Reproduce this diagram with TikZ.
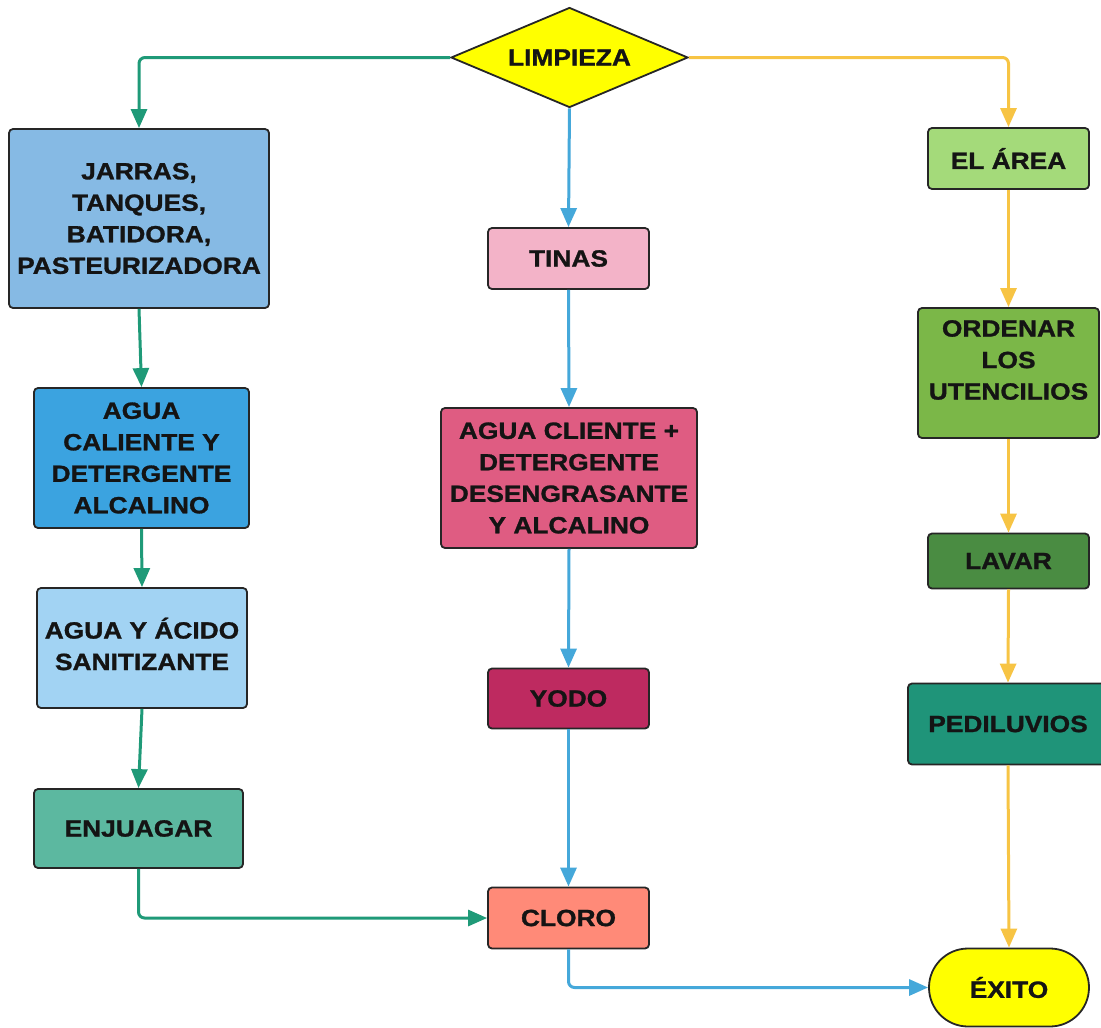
\documentclass[tikz,border=0pt]{standalone}
\usepackage{fontspec}
\setmainfont[FakeStretch=1.12, BoldFeatures={FakeBold=1.2}]{Liberation Sans}
\usetikzlibrary{shapes.geometric,arrows.meta}

\newcommand\boxfont{\fontsize{23.5}{31.5}\selectfont\bfseries}

\definecolor{cYellow}{HTML}{FFFF00}
\definecolor{cJarras}{HTML}{86BAE4}
\definecolor{cCaliente}{HTML}{3BA3E0}
\definecolor{cAcido}{HTML}{A2D3F3}
\definecolor{cEnjuagar}{HTML}{5CB8A0}
\definecolor{cTinas}{HTML}{F3B3C8}
\definecolor{cCliente}{HTML}{DF5C82}
\definecolor{cYodo}{HTML}{BE2A60}
\definecolor{cCloro}{HTML}{FF8A78}
\definecolor{cArea}{HTML}{A4DA7A}
\definecolor{cOrdenar}{HTML}{7BB748}
\definecolor{cLavar}{HTML}{4A8C42}
\definecolor{cPedi}{HTML}{1F9479}
\definecolor{lnGreen}{HTML}{1F9A78}
\definecolor{lnBlue}{HTML}{45A8DA}
\definecolor{lnYellow}{HTML}{F7C444}

\tikzset{
  box/.style={draw=black!85, line width=1.8pt, rounded corners=4pt,
    align=center, inner sep=0pt, font=\boxfont, text=black!92},
  txt/.style={align=center, inner sep=0pt, font=\boxfont, text=black!92},
  link/.style={line width=3pt, rounded corners=6pt,
    -{Triangle[length=19pt,width=16pt]}},
}

\begin{document}
\begin{tikzpicture}[x=1pt,y=-1pt]
\useasboundingbox (0,0) rectangle (1101,1028);

% start
\node[diamond, aspect=2.37, draw=black!85, line width=1.8pt, fill=cYellow,
      inner sep=0pt, minimum width=237pt, minimum height=100pt,
      font=\boxfont, text=black!92] (lim) at (569.5,57.5) {LIMPIEZA};

% left column
\node[box, fill=cJarras, minimum width=260pt, minimum height=179pt]
  (jarras) at (139,218.5) {JARRAS,\\TANQUES,\\BATIDORA,\\PASTEURIZADORA};
\node[box, fill=cCaliente, minimum width=215pt, minimum height=140pt]
  (caliente) at (141.5,458) {AGUA\\CALIENTE Y\\DETERGENTE\\ALCALINO};
\node[box, fill=cAcido, minimum width=210pt, minimum height=120pt]
  (acido) at (142,648) {};
\node[txt] (acido-t) at (142,644) {AGUA Y ÁCIDO\\SANITIZANTE};
\node[box, fill=cEnjuagar, minimum width=209pt, minimum height=79pt]
  (enj) at (138.5,828.5) {ENJUAGAR};

% middle column
\node[box, fill=cTinas, minimum width=161pt, minimum height=61pt]
  (tinas) at (568.5,258.5) {TINAS};
\node[box, fill=cCliente, minimum width=256pt, minimum height=140pt]
  (cliente) at (569,478) {AGUA CLIENTE +\\DETERGENTE\\DESENGRASANTE\\Y ALCALINO};
\node[box, fill=cYodo, minimum width=161pt, minimum height=60pt]
  (yodo) at (568.5,698.5) {YODO};
\node[box, fill=cCloro, minimum width=161pt, minimum height=61pt]
  (cloro) at (568.5,918) {CLORO};

% right column
\node[box, fill=cArea, minimum width=161pt, minimum height=61pt]
  (area) at (1008.5,158.5) {EL ÁREA};
\node[box, fill=cOrdenar, minimum width=181pt, minimum height=130pt]
  (ordenar) at (1008.5,373) {};
\node[txt] (ordenar-t) at (1008.5,360) {ORDENAR\\LOS\\UTENCILIOS};
\node[box, fill=cLavar, minimum width=161pt, minimum height=55pt]
  (lavar) at (1008.5,561) {LAVAR};
\node[box, fill=cPedi, minimum width=200pt, minimum height=81pt]
  (pedi) at (1008,724) {PEDILUVIOS};
\node[box, fill=cYellow, rounded corners=39pt, minimum width=160pt,
      minimum height=78pt] (exito) at (1009,987.5) {ÉXITO};

% green branch
\draw[link, lnGreen] (lim.west) -| (jarras.north);
\draw[link, lnGreen] (jarras.south) -- (caliente.north);
\draw[link, lnGreen] (caliente.south) -- (acido.north);
\draw[link, lnGreen] (acido.south) -- (enj.north);
\draw[link, lnGreen] (enj.south) |- (cloro.west);

% blue branch
\draw[link, lnBlue] (lim.south) -- (tinas.north);
\draw[link, lnBlue] (tinas.south) -- (cliente.north);
\draw[link, lnBlue] (cliente.south) -- (yodo.north);
\draw[link, lnBlue] (yodo.south) -- (cloro.north);
\draw[link, lnBlue] (cloro.south) |- (exito.west);

% yellow branch
\draw[link, lnYellow] (lim.east) -| (area.north);
\draw[link, lnYellow] (area.south) -- (ordenar.north);
\draw[link, lnYellow] (ordenar.south) -- (lavar.north);
\draw[link, lnYellow] (lavar.south) -- (pedi.north);
\draw[link, lnYellow] (pedi.south) -- (exito.north);
\end{tikzpicture}
\end{document}
